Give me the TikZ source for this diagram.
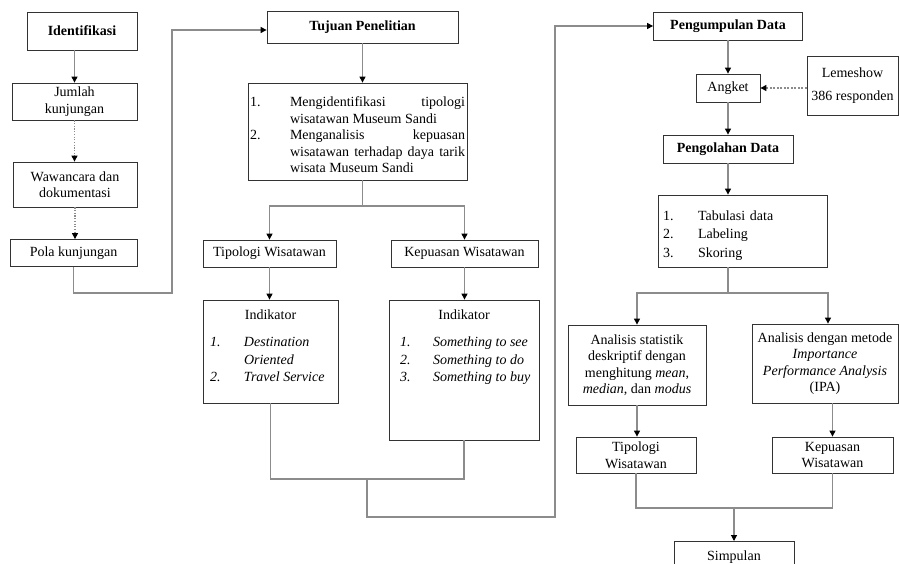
\documentclass[tikz,border=0pt]{standalone}
\usepackage{fontspec}
\setmainfont{Liberation Serif}
\usetikzlibrary{arrows.meta}
\newcommand{\listentry}[3]{\par\noindent\hangindent=#1\relax\makebox[#1][l]{#2}#3\par}
\hyphenpenalty=10000
\exhyphenpenalty=10000

\begin{document}
\begin{tikzpicture}[x=1pt,y=-1pt,
  box/.style={draw=black!80,line width=0.8pt,inner sep=2pt,align=center,
              font=\fontsize{14pt}{16.5pt}\selectfont},
  head/.style={box,font=\fontsize{14pt}{16.5pt}\selectfont\bfseries},
  line/.style={draw=black!45,line width=1.1pt},
  arr/.style={line,-{Triangle[length=6pt,width=6pt,color=black]}},
  dotarr/.style={arr,dash pattern=on 1.2pt off 1.5pt},
  dasharr/.style={arr,dash pattern=on 2pt off 1.5pt}]
\useasboundingbox (0,0) rectangle (900,564);
\clip (0,0) rectangle (900,564);
% left column
\node[head,minimum width=110pt,minimum height=38pt] (ident) at (82,31) {Identifikasi};
\node[box,minimum width=125pt,minimum height=37pt] (jumlah) at (74.5,101.5) {Jumlah\\kunjungan};
\node[box,minimum width=124pt,minimum height=45pt] (wawancara) at (75,184.5) {Wawancara dan\\dokumentasi};
\node[box,minimum width=127pt,minimum height=27pt] (pola) at (73.5,253) {Pola kunjungan};
% middle column
\node[head,minimum width=191pt,minimum height=32pt] (tujuan) at (362.5,27) {Tujuan Penelitian};
\node[box,text width=215pt,inner xsep=2pt,inner ysep=4pt,minimum height=97pt,align=justify] (obj) at (357.5,131.5)
  {\listentry{40pt}{1.}{Mengidentifikasi tipologi wisatawan Museum Sandi}%
   \listentry{40pt}{2.}{Menganalisis kepuasan wisatawan terhadap daya tarik wisata Museum Sandi}};
\node[box,minimum width=133pt,minimum height=27pt] (tipo) at (269.5,253.5) {Tipologi Wisatawan};
\node[box,minimum width=147pt,minimum height=27pt] (kepu) at (464.5,253.5) {Kepuasan Wisatawan};
\node[box,inner sep=0pt,minimum width=135pt,minimum height=103pt] (indL) at (270.5,351.5)
  {\parbox[c][100pt][t]{121pt}{\fontsize{14pt}{17.5pt}\selectfont\vspace*{8pt}\centering Indikator\par
   \vspace{10pt}\raggedright\itshape
   \listentry{34pt}{1.}{Destination Oriented}%
   \listentry{34pt}{2.}{Travel Service}}};
\node[box,inner sep=0pt,minimum width=150pt,minimum height=140pt] (indR) at (464,370)
  {\parbox[c][137pt][t]{138pt}{\fontsize{14pt}{17.5pt}\selectfont\vspace*{8pt}\centering Indikator\par
   \vspace{10pt}\raggedright\itshape
   \listentry{38pt}{\hspace*{5pt}1.}{Something to see}%
   \listentry{38pt}{\hspace*{5pt}2.}{Something to do}%
   \listentry{38pt}{\hspace*{5pt}3.}{Something to buy}}};
% right column
\node[head,minimum width=149pt,minimum height=28pt] (peng) at (728,26) {Pengumpulan Data};
\node[box,minimum width=64pt,minimum height=28pt] (angket) at (728,88) {Angket};
\node[box,minimum width=91pt,minimum height=59pt] (lemeshow) at (852.5,85.5) {Lemeshow\\[6pt]386 responden};
\node[head,minimum width=130pt,minimum height=28pt] (pengolahan) at (728,149) {Pengolahan Data};
\node[box,text width=159pt,inner xsep=5pt,minimum height=72pt,align=left,
      font=\fontsize{14pt}{18.5pt}\selectfont] (list2) at (742.5,231)
  {\listentry{35pt}{1.}{Tabulasi data}\listentry{35pt}{2.}{Labeling}\listentry{35pt}{3.}{Skoring}};
\node[box,minimum width=138pt,minimum height=80pt] (anaL) at (637,365)
  {Analisis statistik\\deskriptif dengan\\menghitung \textit{mean},\\\textit{median}, dan \textit{modus}};
\node[box,minimum width=146pt,minimum height=79pt] (anaR) at (825,363.5)
  {Analisis dengan metode\\\textit{Importance}\\\textit{Performance Analysis}\\(IPA)};
\node[box,minimum width=120pt,minimum height=36pt] (tipo2) at (636,455) {Tipologi\\Wisatawan};
\node[box,minimum width=121pt,minimum height=36pt] (kepu2) at (832.5,455) {Kepuasan\\Wisatawan};
\node[box,inner sep=0pt,minimum width=120pt,anchor=north] (simpulan) at (734,541)
  {\parbox[c][40pt][t]{110pt}{\centering\vspace*{9pt}Simpulan}};
% connectors
\draw[arr] (ident.south -| jumlah.north) -- (jumlah.north);
\draw[dotarr] (jumlah.south) -- (jumlah.south |- wawancara.north);
\draw[dotarr] (wawancara.south) -- (wawancara.south |- pola.north);
\draw[arr] (pola.south) |- (172,293) |- ([yshift=-3pt]tujuan.west);
\draw[arr] (tujuan.south) -- (tujuan.south |- obj.north);
\coordinate (forkA) at (tujuan.south |- 0,206);
\draw[line] (tujuan.south |- obj.south) -- (forkA);
\draw[arr] (forkA) -| (tipo.north);
\draw[arr] (forkA) -| (kepu.north);
\draw[arr] (tipo.south) -- (tipo.south |- indL.north);
\draw[arr] (kepu.south) -- (kepu.south |- indR.north);
\coordinate (joinA) at (367,479);
\draw[line] (indL.south) |- (joinA) -| (indR.south);
\draw[arr] (joinA) |- (555,517) |- (peng.west);
\draw[arr] (peng.south) -- (angket.north);
\draw[dasharr] (lemeshow.west |- angket.east) -- (angket.east);
\draw[arr] (angket.south) -- (pengolahan.north);
\draw[arr] (pengolahan.south) -- (pengolahan.south |- list2.north);
\coordinate (forkB) at (pengolahan.south |- 0,293);
\draw[line] (pengolahan.south |- list2.south) -- (forkB);
\draw[arr] (forkB) -| (anaL.north);
\draw[arr] (forkB) -| ([xshift=3pt]anaR.north);
\draw[arr] (anaL.south) -- (anaL.south |- tipo2.north);
\draw[arr] (kepu2.north |- anaR.south) -- (kepu2.north);
\coordinate (joinB) at (734,508);
\draw[line] (tipo2.south) |- (joinB) -| (kepu2.south);
\draw[arr] (joinB) -- (simpulan.north);
\end{tikzpicture}
\end{document}
